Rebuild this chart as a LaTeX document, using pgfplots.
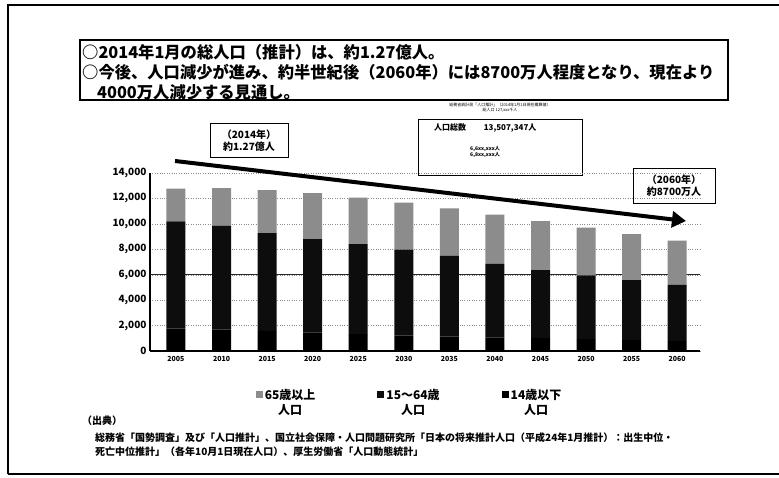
\documentclass[border=0pt]{standalone}
\usepackage{pgfplots}
\pgfplotsset{compat=1.18}
\usepackage{pgfplotstable}
\usepackage{fontspec}
\setmainfont{Noto Sans CJK JP}
\usetikzlibrary{arrows.meta}

% population, 10 thousand persons
\pgfplotstableread{
x year young working old
0 2005 1759 8442 2576
1 2010 1684 8173 2948
2 2015 1583 7682 3395
3 2020 1457 7341 3612
4 2025 1324 7085 3657
5 2030 1204 6773 3685
6 2035 1129 6343 3741
7 2040 1073 5787 3868
8 2045 1012 5353 3856
9 2050 939 5001 3768
10 2055 861 4706 3626
11 2060 791 4418 3464
}\pop

\begin{document}
\begin{tikzpicture}
\useasboundingbox (0pt,0pt) rectangle (779pt,477pt);

\begin{scope}[x=1pt,yshift=477pt,y=-1pt]
% outer frame
\draw[line width=1.3pt] (8,474) -- (8,5) -- (779,5);
\draw[line width=1.3pt] (8,474) -- (779,474);
% headline box
\draw[line width=1.1pt] (80,40) rectangle (728,100);
\node[anchor=west,font=\bfseries\fontsize{16.3}{16}\selectfont,inner sep=0] at (82,52) {○2014年1月の総人口（推計）は、約1.27億人。};
\node[anchor=west,font=\bfseries\fontsize{16.3}{16}\selectfont,inner sep=0] at (82,72) {○今後、人口減少が進み、約半世紀後（2060年）には8700万人程度となり、現在より};
\node[anchor=west,font=\bfseries\fontsize{16.3}{16}\selectfont,inner sep=0] at (97,92) {4000万人減少する見通し。};

% inset box
\node[font=\fontsize{4}{5}\selectfont,align=center,inner sep=0] at (500,108) {総務省統計局「人口推計」（2014年1月1日現在概算値）\\ 総人口 127,xxx千人};
\draw[thin] (418,119) rectangle (582,175);
\node[anchor=west,font=\bfseries\fontsize{8}{8}\selectfont,inner sep=0] at (434,128) {人口総数\hspace{2.2em}13,507,347人};
\node[anchor=west,font=\bfseries\fontsize{5}{6}\selectfont,inner sep=0,align=left] at (470,152) {6,6xx,xxx人\\ 6,8xx,xxx人};

% annotation boxes
\draw[thin] (210,123) rectangle (288,157);
\node[font=\bfseries\fontsize{10}{12}\selectfont,align=center,inner sep=0] at (249,141) {（2014年）\\約1.27億人};
\draw[thin] (633,168) rectangle (715,203);
\node[font=\bfseries\fontsize{10}{12}\selectfont,align=center,inner sep=0] at (674,186) {（2060年）\\約8700万人};

% source
\node[anchor=west,font=\bfseries\fontsize{10}{10}\selectfont,inner sep=0] at (82,421) {（出典）};
\node[anchor=west,font=\bfseries\fontsize{10}{10}\selectfont,inner sep=0] at (95,438) {総務省「国勢調査」及び「人口推計」、国立社会保障・人口問題研究所「日本の将来推計人口（平成24年1月推計）：出生中位・};
\node[anchor=west,font=\bfseries\fontsize{10}{10}\selectfont,inner sep=0] at (95,452) {死亡中位推計」（各年10月1日現在人口）、厚生労働省「人口動態統計」};
\end{scope}

\begin{axis}[
  at={(150pt,126pt)}, anchor=south west,
  scale only axis, width=550pt, height=178pt,
  ybar stacked, bar width=19pt,
  xmin=-0.57, xmax=11.5, ymin=0, ymax=14000,
  axis lines*=left, axis line style={line width=1.2pt},
  xtick=data, xticklabels from table={\pop}{year},
  ytick={0,2000,...,14000},
  scaled y ticks=false,
  major tick length=0pt,
  ymajorgrids, grid style={dotted, black!45},
  extra y ticks={6000}, extra y tick labels={},
  extra y tick style={grid style={solid, black!85, line width=1pt}},
  /pgf/number format/assume math mode=true,
  /pgf/number format/1000 sep={,},
  yticklabel style={font=\bfseries\fontsize{10}{10}\selectfont},
  xticklabel style={font=\bfseries\fontsize{7}{7}\selectfont, yshift=-2pt},
  reverse legend,
  legend columns=3,
  legend style={at={(0.472,-0.29)}, anchor=center, draw=none, fill=none,
    font=\bfseries\fontsize{12}{14}\selectfont,
    /tikz/every even column/.append style={column sep=60pt}},
  legend image code/.code={\draw[#1,draw=none] (0pt,5pt) rectangle (7pt,12pt);},
]
\addplot[fill=black, draw=none] table[x=x, y=young]{\pop};
\addlegendentry{\shortstack{14歳以下\\人口}}
\addplot[fill=black!95, draw=none] table[x=x, y=working]{\pop};
\addlegendentry{\shortstack{15～64歳\\人口}}
\addplot[fill=black!45, draw=none] table[x=x, y=old]{\pop};
\addlegendentry{\shortstack{65歳以上\\人口}}
\end{axis}

% trend arrow, drawn over the axis
\begin{scope}[x=1pt,yshift=477pt,y=-1pt]
\draw[line width=4pt,-{Triangle[length=14pt,width=16pt]}] (175,161) -- (686,221);
\end{scope}
\end{tikzpicture}
\end{document}
